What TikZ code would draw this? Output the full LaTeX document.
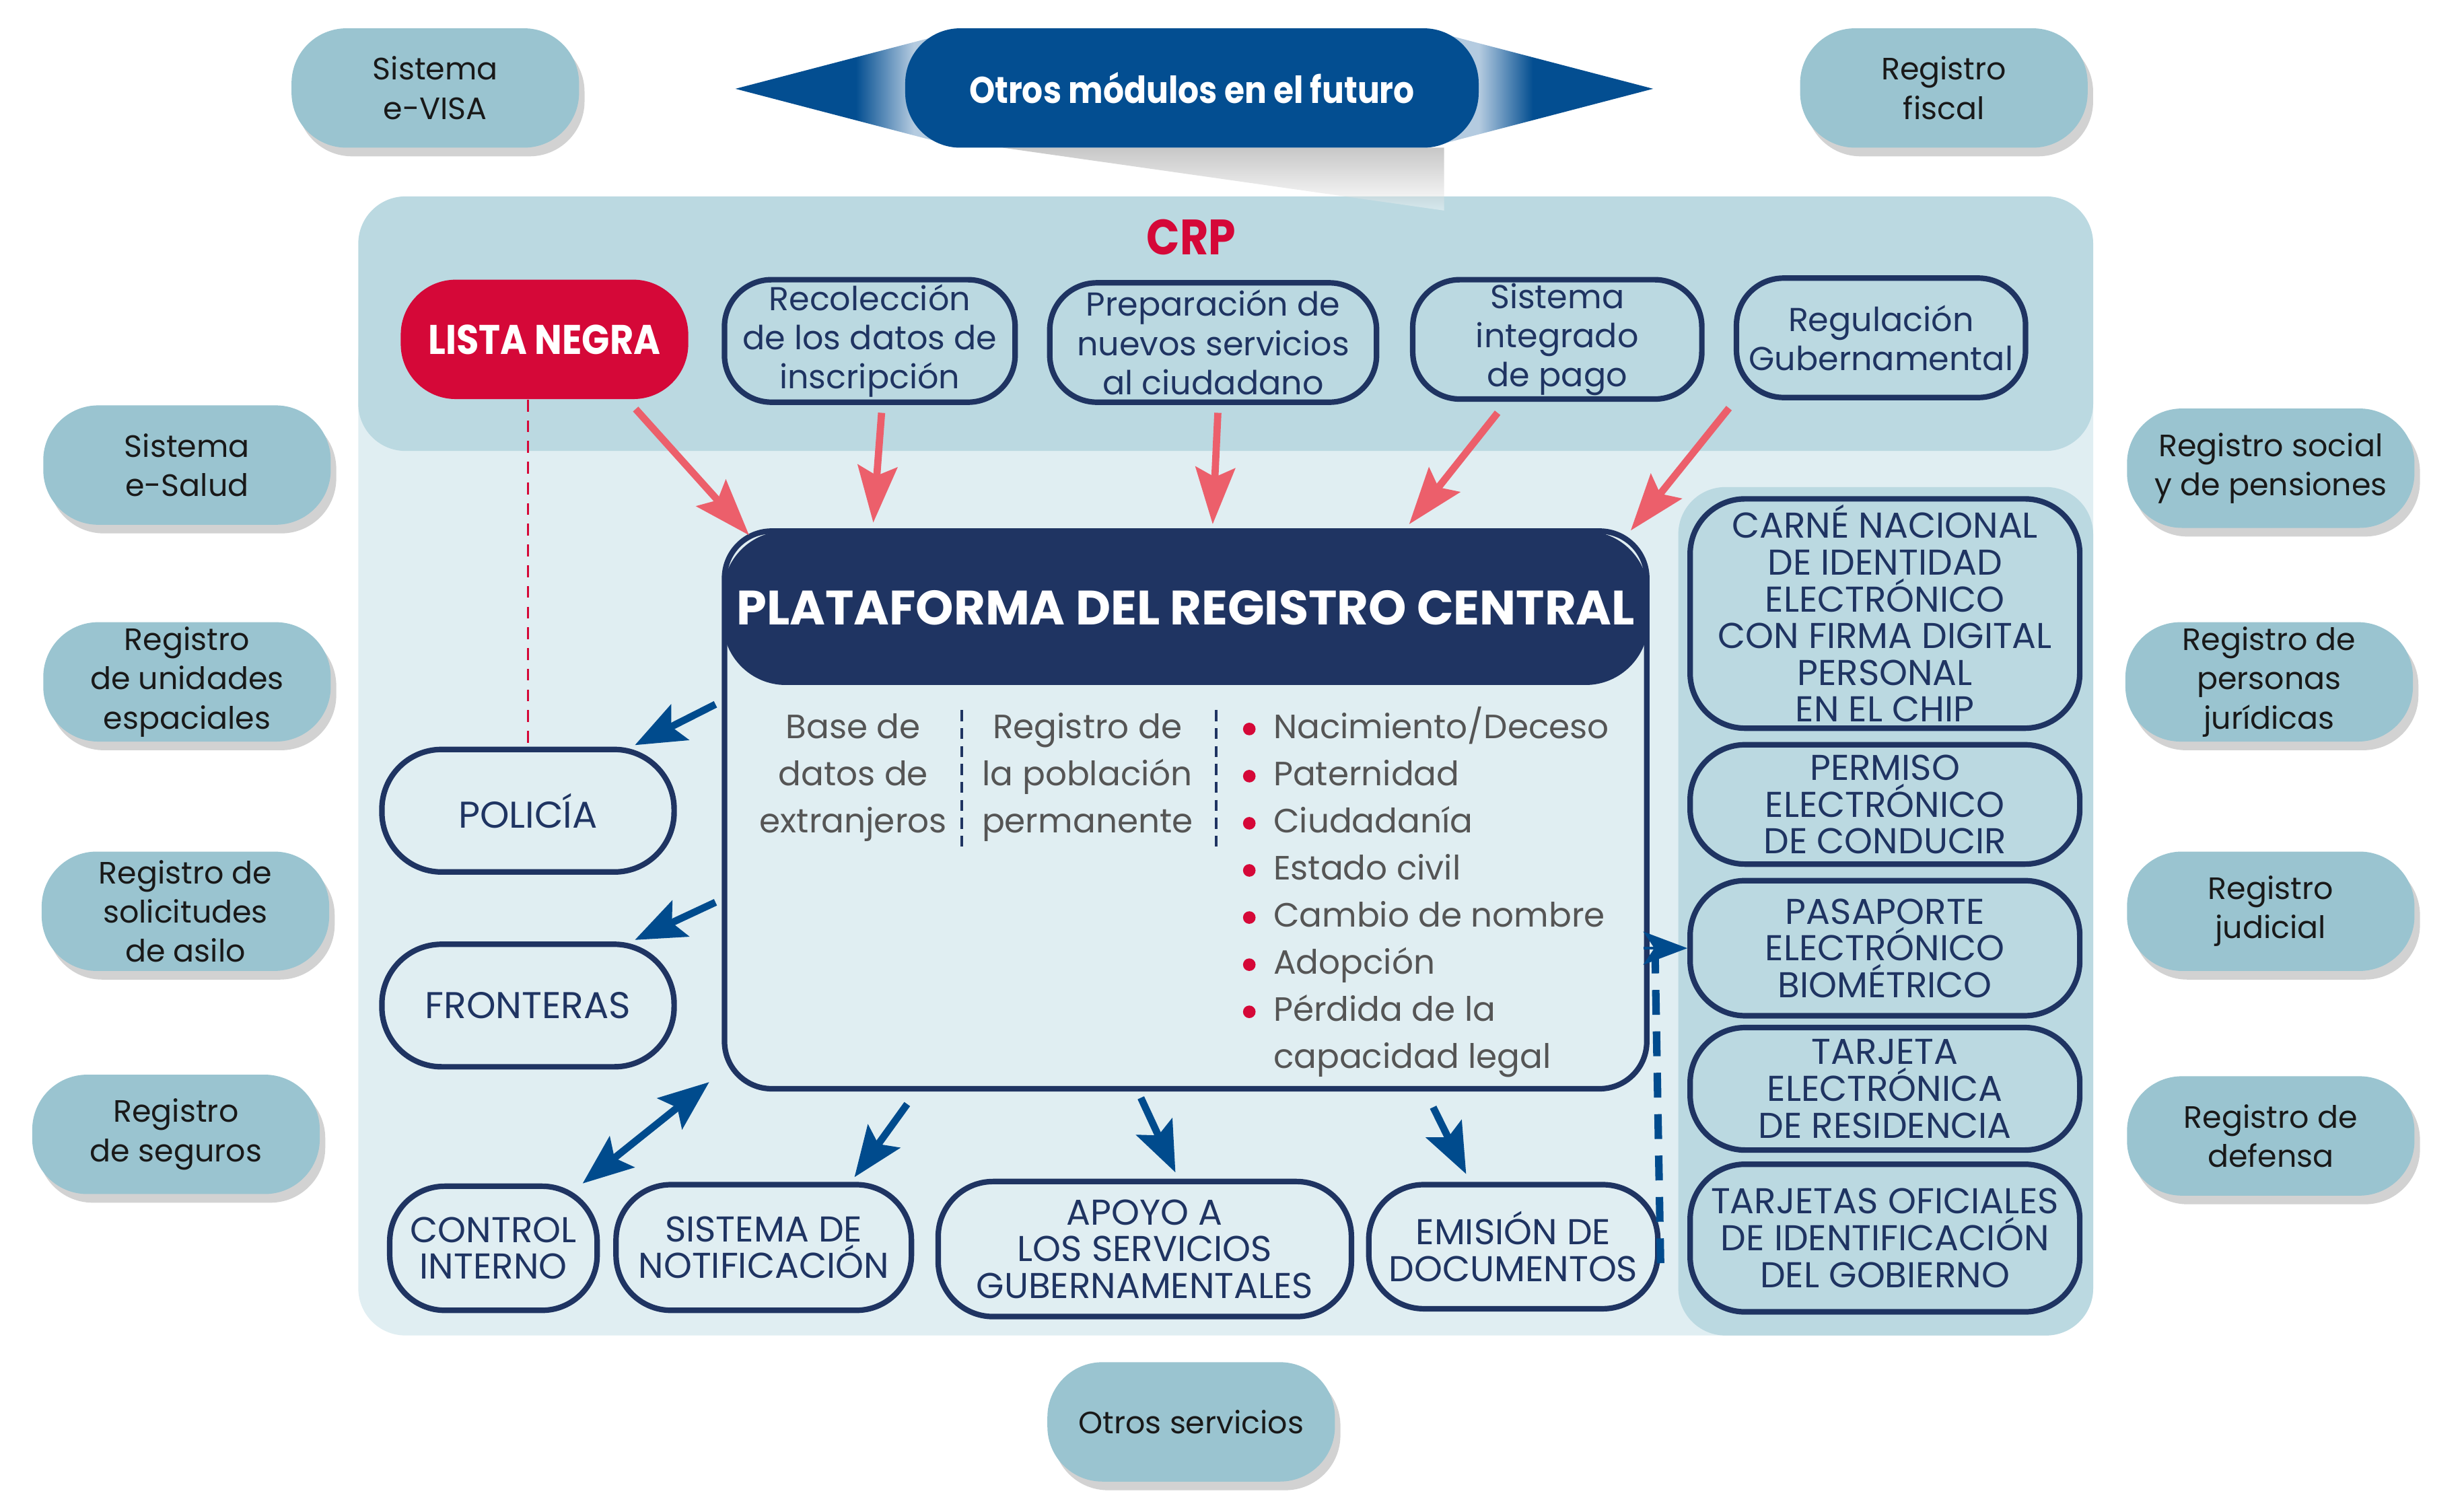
\documentclass[tikz,border=0pt]{standalone}
\usepackage{fontspec}
\setmainfont{Poppins}
\newfontfamily\headfont{Poppins}[FakeStretch=0.88]
\usetikzlibrary{arrows.meta,shadows}

\definecolor{bandcol}{HTML}{BBD9E1}
\definecolor{panelcol}{HTML}{E0EEF2}
\definecolor{extcol}{HTML}{9AC4D0}
\definecolor{navy}{HTML}{1F3462}
\definecolor{crpred}{HTML}{D50838}
\definecolor{salmon}{HTML}{EC5F6B}
\definecolor{arrblue}{HTML}{004B8D}
\definecolor{modblue}{HTML}{034E91}
\definecolor{modlight}{HTML}{B4CBE0}
\definecolor{txtgray}{HTML}{555555}

\pgfdeclarehorizontalshading{modfadeL}{100bp}{color(0bp)=(modblue); color(25bp)=(modblue); color(54bp)=(modblue); color(68bp)=(modlight); color(100bp)=(modlight)}
\pgfdeclarehorizontalshading{modfadeR}{100bp}{color(0bp)=(modlight); color(33bp)=(modlight); color(46bp)=(modblue); color(75bp)=(modblue); color(100bp)=(modblue)}

\begin{document}
\begin{tikzpicture}[x=0.02cm, y=-0.02cm,
  extbox/.style={fill=extcol, rounded corners=0.7cm, minimum width=3.66cm, minimum height=1.52cm,
    inner sep=1pt, align=center, text=black!90, font=\fontsize{11.2}{14.2}\selectfont,
    drop shadow={shadow xshift=0.07cm, shadow yshift=-0.11cm, opacity=0.25, fill=black!70}},
  topbox/.style={draw=navy, line width=2pt, rounded corners=0.6cm, inner sep=1pt, align=center,
    text=navy, font=\fontsize{12}{14.2}\selectfont},
  capbox/.style={draw=navy, line width=2pt, rounded corners=0.7cm, inner sep=1pt, align=center,
    text=navy, font=\fontsize{13}{13.3}\selectfont},
  listtxt/.style={inner sep=0pt, text=txtgray, font=\fontsize{12.2}{15}\selectfont},
  redarr/.style={draw=salmon, line width=2.6pt, -{Stealth[length=0.72cm, width=0.5cm, inset=0.12cm]}},
  bluearr/.style={draw=arrblue, line width=2.6pt, -{Stealth[length=0.64cm, width=0.5cm, inset=0.12cm]}},
  bluedbl/.style={draw=arrblue, line width=2.6pt,
    {Stealth[length=0.64cm, width=0.5cm, inset=0.12cm]}-{Stealth[length=0.64cm, width=0.5cm, inset=0.12cm]}}]
  \useasboundingbox (0,0) rectangle (1568,961);

  % CRP panel: light body, darker top band, darker right column
  \fill[panelcol, rounded corners=0.6cm] (228,200) rectangle (1332,850);
  \fill[bandcol, rounded corners=0.6cm] (228,125) rectangle (1332,287);
  \fill[bandcol, rounded corners=0.6cm] (1068,310) rectangle (1332,850);

  % future modules banner
  \shade[shading=modfadeL] (468,56.5) -- (600,22) -- (600,91) -- cycle;
  \shade[shading=modfadeR] (1052,56.5) -- (920,22) -- (920,91) -- cycle;
  \shade[top color=black!55, bottom color=white, opacity=0.4] (638,94) -- (919,94) -- (919,134) -- cycle;
  \node[fill=modblue, rounded corners=0.7cm, minimum width=7.3cm, minimum height=1.52cm, text=white,
    font=\headfont\bfseries\fontsize{13.5}{14}\selectfont] (modulos) at (758.5,56) {Otros módulos en el futuro};

  % outside systems
  \node[extbox] (evisa) at (277,56) {Sistema\\e-VISA};
  \node[extbox] (fiscal) at (1237,56) {Registro\\fiscal};
  \node[extbox] (esalud) at (119,296) {Sistema\\e-Salud};
  \node[extbox] (unidades) at (119,434) {Registro\\de unidades\\espaciales};
  \node[extbox] (asilo) at (118,580) {Registro de\\solicitudes\\de asilo};
  \node[extbox] (seguros) at (112,722) {Registro\\de seguros};
  \node[extbox] (social) at (1445,298) {Registro social\\y de pensiones};
  \node[extbox] (juridicas) at (1444,434) {Registro de\\personas\\jurídicas};
  \node[extbox] (judicial) at (1445,580) {Registro\\judicial};
  \node[extbox] (defensa) at (1445,723) {Registro de\\defensa};
  \node[extbox] (otros) at (758,905) {Otros servicios};

  % top band
  \node[text=crpred, font=\headfont\bfseries\fontsize{18}{18}\selectfont] (crp) at (758,151) {CRP};
  \node[fill=crpred, rounded corners=0.7cm, minimum width=3.66cm, minimum height=1.52cm, text=white,
    font=\headfont\bfseries\fontsize{15}{16}\selectfont] (lista) at (346.5,216) {LISTA NEGRA};
  \node[topbox, minimum width=3.7cm, minimum height=1.56cm] (recol) at (553.5,217) {Recolección\\de los datos de\\inscripción};
  \node[topbox, minimum width=4.16cm, minimum height=1.52cm] (prep) at (772,218) {Preparación de\\nuevos servicios\\al ciudadano};
  \node[topbox, minimum width=3.68cm, minimum height=1.52cm] (pago) at (991,216) {Sistema\\integrado\\de pago};
  \node[topbox, minimum width=3.68cm, minimum height=1.52cm] (regul) at (1197,215) {Regulación\\Gubernamental};

  % central platform
  \node[draw=navy, line width=2pt, fill=panelcol, rounded corners=0.6cm, minimum width=11.74cm,
    minimum height=7.1cm] (platbox) at (754.5,515.5) {};
  \node[fill=navy, rounded corners=0.8cm, minimum width=11.78cm, minimum height=1.96cm, text=white,
    font=\bfseries\fontsize{17.5}{18}\selectfont] (plathead) at (754.5,387) {PLATAFORMA DEL REGISTRO CENTRAL};
  \foreach \t [count=\k from 0] in {Base de, datos de, extranjeros}
    \node[listtxt, anchor=base] at (543,470+30*\k) {\t};
  \foreach \t [count=\k from 0] in {Registro de, la población, permanente}
    \node[listtxt, anchor=base] at (692,470+30*\k) {\t};
  \draw[navy, line width=0.9pt, dash pattern=on 4pt off 2.5pt] (612,452) -- (612,542);
  \draw[navy, line width=0.9pt, dash pattern=on 4pt off 2.5pt] (774,452) -- (774,542);
  \foreach \t [count=\k from 0] in {{Nacimiento/Deceso}, Paternidad, Ciudadanía, Estado civil,
      Cambio de nombre, Adopción, Pérdida de la, capacidad legal} {
    \node[listtxt, anchor=base west] at (810,470+30*\k) {\t};
    \ifnum\k<7 \fill[crpred] (795,464+30*\k) circle[radius=0.08cm]; \fi
  }

  % services left and below
  \node[capbox, minimum width=3.72cm, minimum height=1.56cm, rounded corners=0.76cm,
    font=\fontsize{13.5}{14}\selectfont] (police) at (336,516) {POLICÍA};
  \node[capbox, minimum width=3.72cm, minimum height=1.56cm, rounded corners=0.76cm,
    font=\fontsize{13.5}{14}\selectfont] (fronteras) at (336,640) {FRONTERAS};
  \node[capbox, minimum width=2.64cm, minimum height=1.58cm] (control) at (314,794.5) {CONTROL\\INTERNO};
  \node[capbox, minimum width=3.76cm, minimum height=1.6cm] (notif) at (486,794) {SISTEMA DE\\NOTIFICACIÓN};
  \node[capbox, minimum width=5.26cm, minimum height=1.72cm] (apoyo) at (728.5,795) {APOYO A\\LOS SERVICIOS\\GUBERNAMENTALES};
  \node[capbox, minimum width=3.68cm, minimum height=1.58cm] (emision) at (963,793.5) {EMISIÓN DE\\DOCUMENTOS};

  % documents column
  \node[capbox, minimum width=4.96cm, minimum height=2.92cm] (carne) at (1199.5,390.5)
    {CARNÉ NACIONAL\\DE IDENTIDAD\\ELECTRÓNICO\\CON FIRMA DIGITAL\\PERSONAL\\EN EL CHIP};
  \node[capbox, minimum width=4.96cm, minimum height=1.52cm] (permiso) at (1199.5,512) {PERMISO\\ELECTRÓNICO\\DE CONDUCIR};
  \node[capbox, minimum width=4.96cm, minimum height=1.72cm] (pasaporte) at (1199.5,603.5) {PASAPORTE\\ELECTRÓNICO\\BIOMÉTRICO};
  \node[capbox, minimum width=4.96cm, minimum height=1.56cm] (tarjeta) at (1199.5,693) {TARJETA\\ELECTRÓNICA\\DE RESIDENCIA};
  \node[capbox, minimum width=4.96cm, minimum height=1.88cm] (oficiales) at (1199.5,788) {TARJETAS OFICIALES\\DE IDENTIFICACIÓN\\DEL GOBIERNO};

  % inputs to the platform
  \draw[redarr] ([shift={(58,6)}]lista.south) -- ([shift={(17,3)}]plathead.north west);
  \draw[redarr] ([shift={(7.5,5)}]recol.south) -- ([shift={(96,-5)}]plathead.north west);
  \draw[redarr] ([shift={(3,5)}]prep.south) -- ([shift={(312,-4)}]plathead.north west);
  \draw[redarr] ([shift={(-38,7)}]pago.south) -- ([shift={(437,-4)}]plathead.north west);
  \draw[redarr] ([shift={(-3,5)}]regul.south west) -- ([shift={(578,0)}]plathead.north west);
  \draw[crpred, line width=0.85pt, dash pattern=on 4.3pt off 3.2pt] (lista.south -| police.north) -- (police.north);

  % outputs of the platform
  \draw[bluearr] ([shift={(-4,112)}]platbox.north west) -- ([shift={(68,-1)}]police.north);
  \draw[bluearr] ([shift={(-4,238)}]platbox.north west) -- ([shift={(68,-1)}]fronteras.north);
  \draw[bluedbl] ([shift={(-8,-6)}]platbox.south west) -- ([shift={(-11,0)}]control.north east);
  \draw[bluearr] ([shift={(118,8)}]platbox.south west) -- ([shift={(-38,-3)}]notif.north east);
  \draw[bluearr] ([shift={(-28.5,4)}]platbox.south) -- ([shift={(19.5,-4)}]apoyo.north);
  \draw[bluearr] ([shift={(157.5,10)}]platbox.south) -- ([shift={(-30,-5)}]emision.north);
  \draw[arrblue, line width=2.7pt, dash pattern=on 9pt off 6pt] ([shift={(0,10.5)}]emision.east) -- ([shift={(-20.5,5)}]pasaporte.west);
  \draw[arrblue, line width=1pt, -{Stealth[length=0.56cm, width=0.42cm, inset=0.14cm]}] ([shift={(-28,0)}]pasaporte.west) -- (pasaporte.west);
\end{tikzpicture}
\end{document}
